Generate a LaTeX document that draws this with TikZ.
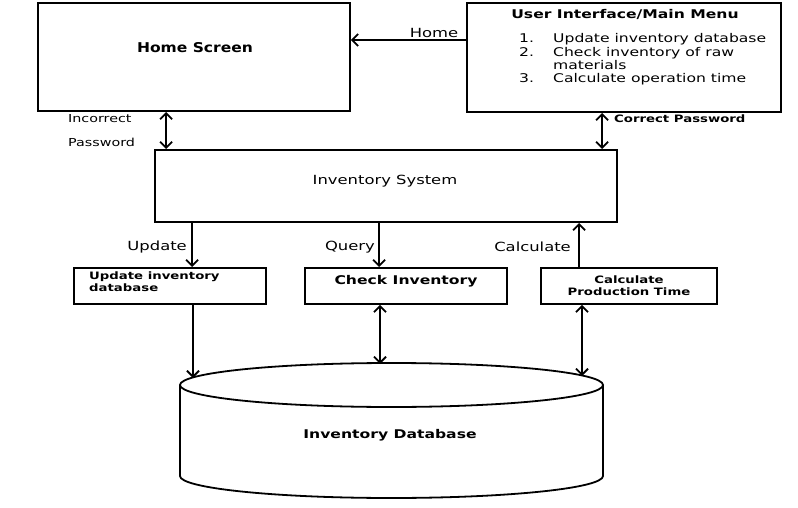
\documentclass[tikz,border=0pt]{standalone}
\usepackage{fontspec}
\setmainfont{DejaVu Sans}[FakeStretch=1.3]
\newfontfamily\homefont{DejaVu Sans}[FakeStretch=1.15]
\usetikzlibrary{arrows.meta}
\tikzset{
  box/.style={draw,line width=1.8pt,inner sep=0pt},
  tip/.style={},
  arr/.style={line width=1.8pt,-{Straight Barb[length=6pt,width=12pt,line width=1.8pt]}},
  darr/.style={line width=1.8pt,{Straight Barb[length=6pt,width=12pt,line width=1.8pt]}-{Straight Barb[length=6pt,width=12pt,line width=1.8pt]}},
  lbl/.style={inner sep=0pt,font=\fontsize{12.6}{14}\selectfont},
  slbl/.style={inner sep=0pt,font=\fontsize{10.2}{12}\selectfont\bfseries},
  tlbl/.style={inner sep=0pt,font=\fontsize{11}{12}\selectfont},
  mlbl/.style={inner sep=0pt,font=\fontsize{12}{14}\selectfont\bfseries},
}
\begin{document}
\begin{tikzpicture}[x=1pt,y=-1pt]
\useasboundingbox (0,0) rectangle (798,508);
% boxes
\node[box,minimum width=312pt,minimum height=108pt] (home) at (194,57) {};
\node[inner sep=0pt,font=\homefont\fontsize{13.5}{15}\selectfont\bfseries] (hometxt) at (195,48) {Home Screen};
\node[box,minimum width=314pt,minimum height=109pt] (ui) at (624,57.5) {};
\node[mlbl] (uititle) at (625,14) {User Interface/Main Menu};
\node[anchor=north west,inner sep=0pt,font=\fontsize{12}{13.3}\selectfont,align=left] (uilist) at (519,33.5)
 {\makebox[34pt][l]{1.}Update inventory database\\
  \makebox[34pt][l]{2.}Check inventory of raw\\
  \makebox[34pt][l]{}materials\\
  \makebox[34pt][l]{3.}Calculate operation time};
\node[box,minimum width=462pt,minimum height=72pt] (inv) at (386,186) {};
\node[lbl] (invtxt) at (385,181) {Inventory System};
\node[box,minimum width=192pt,minimum height=36pt] (upd) at (170,286) {};
\node[slbl,anchor=north west,align=left] (updtxt) at (89,272) {Update inventory\\database};
\node[box,minimum width=202pt,minimum height=36pt] (chk) at (406,286) {};
\node[mlbl] (chktxt) at (406,281) {Check Inventory};
\node[box,minimum width=176pt,minimum height=36pt] (calc) at (629,286) {};
\node[slbl,align=center] (calctxt) at (629,286) {Calculate\\Production Time};
% cylinder
\draw[line width=1.8pt,fill=white] (180,385) -- (180,476) arc[start angle=180,end angle=360,x radius=211.5,y radius=-22] -- (603,385);
\draw[line width=1.8pt] (391.5,385) ellipse[x radius=211.5,y radius=22];
\node[mlbl] (db) at (390,435) {Inventory Database};
\coordinate (dbA) at (193,378);
\coordinate (dbB) at (380,364);
\coordinate (dbC) at (582,376);
% connectors
\draw[arr] ([yshift=17.5pt]ui.west) -- ([yshift=17.5pt]ui.west -| home.east);
\node[lbl,anchor=south] (homelbl) at (434,38) {Home};
\draw[darr] ([xshift=129pt]home.south west) -- ([xshift=129pt]home.south west |- inv.north);
\node[tlbl,anchor=west] (inc) at (68,119) {Incorrect};
\node[tlbl,anchor=west] (pwd) at (68,142) {Password};
\draw[darr] ([xshift=136pt]ui.south west) -- ([xshift=136pt]ui.south west |- inv.north);
\node[slbl,anchor=west] (cpw) at (614,119) {Correct Password};
\draw[arr] ([xshift=38pt]inv.south west) -- ([xshift=38pt]inv.south west |- upd.north);
\node[lbl,anchor=east] (updlbl) at (187,247) {Update};
\draw[arr] ([xshift=225pt]inv.south west) -- ([xshift=225pt]inv.south west |- chk.north);
\node[lbl,anchor=east] (qlbl) at (375,247) {Query};
\draw[arr] ([xshift=39pt]calc.north west) -- ([xshift=39pt]calc.north west |- inv.south);
\node[lbl,anchor=east] (clbl) at (571,247) {Calculate};
\draw[arr] (upd.south -| dbA) -- (dbA);
\draw[darr] (chk.south -| dbB) -- (dbB);
\draw[darr] (calc.south -| dbC) -- (dbC);
\end{tikzpicture}
\end{document}
